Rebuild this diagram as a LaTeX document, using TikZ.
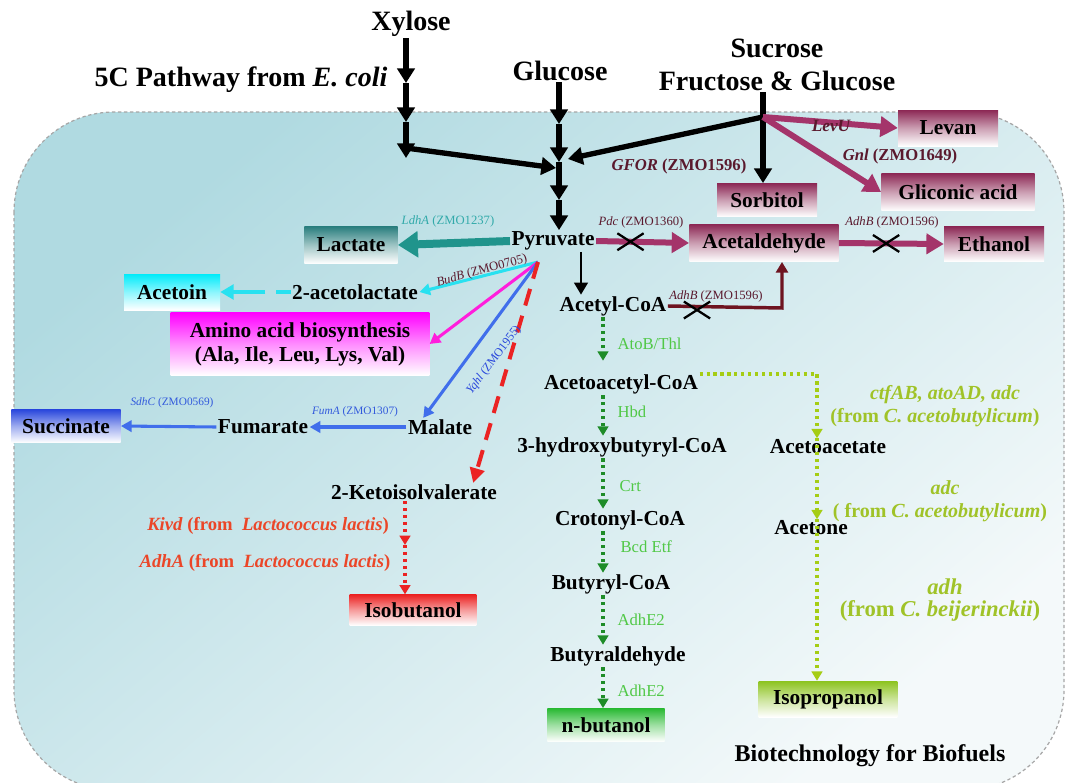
\documentclass[tikz,border=0pt]{standalone}
\usepackage{fontspec}
\setmainfont{Liberation Serif}
\usetikzlibrary{arrows.meta,calc,shapes.misc}
\definecolor{maroon}{RGB}{164,52,106}
\definecolor{boxmaroon}{RGB}{140,40,85}
\definecolor{darkmar}{RGB}{90,25,45}
\definecolor{deepred}{RGB}{110,20,32}
\definecolor{tealA}{RGB}{32,148,140}
\definecolor{tealbox}{RGB}{40,125,125}
\definecolor{tealtxt}{RGB}{50,170,170}
\definecolor{cyanA}{RGB}{40,225,240}
\definecolor{cyanbox}{RGB}{0,235,250}
\definecolor{magA}{RGB}{255,30,220}
\definecolor{magbox}{RGB}{255,0,255}
\definecolor{blueA}{RGB}{64,110,235}
\definecolor{blueB}{RGB}{40,70,220}
\definecolor{bluetxt}{RGB}{50,90,220}
\definecolor{redA}{RGB}{235,35,35}
\definecolor{redlab}{RGB}{235,70,40}
\definecolor{greenA}{RGB}{30,140,40}
\definecolor{greenlab}{RGB}{80,200,70}
\definecolor{greenbox}{RGB}{40,185,50}
\definecolor{ylg}{RGB}{165,205,20}
\definecolor{ylglab}{RGB}{160,195,40}
\definecolor{ylgbox}{RGB}{140,195,30}
\definecolor{bgA}{RGB}{176,218,225}
\definecolor{bgB}{RGB}{244,249,250}
\tikzset{
  met/.style={font=\bfseries\fontsize{16}{18}\selectfont, inner sep=1pt},
  ttl/.style={font=\bfseries\fontsize{21}{24}\selectfont, inner sep=1pt},
  pbox/.style={met, top color=#1, bottom color=white, middle color=#1!45, inner sep=2pt},
  gene/.style={font=\fontsize{9.5}{11}\selectfont, inner sep=1pt},
  glab/.style={font=\fontsize{12.5}{14}\selectfont, text=greenlab, inner sep=1pt, anchor=west},
  ylab/.style={font=\bfseries\fontsize{15}{17}\selectfont, text=ylglab, inner sep=1pt},
  rlab/.style={font=\bfseries\fontsize{14}{16}\selectfont, text=redlab, inner sep=1pt},
  blk/.style={line width=4pt, -{Triangle[length=11pt,width=13pt]}},
  thickmar/.style={line width=4.5pt, color=maroon, -{Triangle[length=13pt,width=15pt]}},
  thin/.style={line width=2.3pt, -{Triangle[length=8pt,width=8.5pt]}},
  gdot/.style={line width=2.6pt, color=greenA, dash pattern=on 2.4pt off 2.8pt, -{Triangle[length=7pt,width=8pt]}},
  ydot/.style={line width=2.6pt, color=ylg, dash pattern=on 2.4pt off 2.8pt, -{Triangle[length=7pt,width=8pt]}},
  rdot/.style={line width=2.6pt, color=redA, dash pattern=on 2.4pt off 2.8pt, -{Triangle[length=7pt,width=8pt]}},
  xmark/.style={cross out, draw=black, line width=1.7pt, minimum width=18pt, minimum height=11pt, inner sep=0pt}
}
\begin{document}
\begin{tikzpicture}[x=0.75pt,y=-0.75pt]
\useasboundingbox (0,0) rectangle (1070,782);
\clip (0,0) rectangle (1070,782);
% background cell
\shade[rounded corners=75pt, top color=bgA, bottom color=bgB, shading angle=40] (14,112) rectangle (1064,790);
\draw[rounded corners=75pt, gray!70, line width=0.9pt, dash pattern=on 2.5pt off 2pt] (14,112) rectangle (1064,790);

% titles
\node[ttl] (xyl) at (411,24) {Xylose};
\node[ttl] (path5c) at (241,80) {5C Pathway from \textit{E. coli}};
\node[ttl] (glc) at (560,71) {Glucose};
\node[ttl] (suc) at (777,48) {Sucrose};
\node[ttl] (frg) at (777,81) {Fructose \& Glucose};

% product boxes
\node[pbox=boxmaroon, minimum width=75pt, minimum height=27pt] (levan) at (948,128) {Levan};
\node[pbox=boxmaroon, minimum width=115pt, minimum height=28pt] (glic) at (958,192) {Gliconic acid};
\node[pbox=boxmaroon, minimum width=75pt, minimum height=25pt] (sorb) at (767,200) {Sorbitol};
\node[pbox=boxmaroon, minimum width=112pt, minimum height=28pt] (acald) at (764,243) {Acetaldehyde};
\node[pbox=boxmaroon, minimum width=75pt, minimum height=26pt] (etoh) at (994,244) {Ethanol};
\node[pbox=tealbox, minimum width=70pt, minimum height=28pt] (lact) at (351,245) {Lactate};
\node[pbox=cyanbox, minimum width=72pt, minimum height=27pt] (acetoin) at (172,292) {Acetoin};
\node[pbox=magbox, minimum width=194pt, minimum height=47pt, align=center] (amino) at (300,344) {Amino acid biosynthesis\\(Ala, Ile, Leu, Lys, Val)};
\node[pbox=blueB, minimum width=82pt, minimum height=25pt] (succ) at (66,426) {Succinate};
\node[pbox=redA, minimum width=95pt, minimum height=23pt] (isobut) at (413,610) {Isobutanol};
\node[pbox=greenbox, minimum width=88pt, minimum height=25pt] (nbut) at (606,725) {n-butanol};
\node[pbox=ylgbox, minimum width=104pt, minimum height=27pt] (isoprop) at (828,699) {Isopropanol};

% metabolites
\node[met] (pyr) at (553,241) {Pyruvate};
\node[met] (acetolac) at (355,292) {2-acetolactate};
\node[met] (acetyl) at (613,306) {Acetyl-CoA};
\node[met] (acac) at (621,384) {Acetoacetyl-CoA};
\node[met] (hbco) at (622,447) {3-hydroxybutyryl-CoA};
\node[met] (crot) at (620,520) {Crotonyl-CoA};
\node[met] (buty) at (611,584) {Butyryl-CoA};
\node[met] (butald) at (618,656) {Butyraldehyde};
\node[met] (acacet) at (828,447) {Acetoacetate};
\node[met] (acetone) at (811,528) {Acetone};
\node[met] (malate) at (440,427) {Malate};
\node[met] (fum) at (263,427) {Fumarate};
\node[met] (kiv) at (414,492) {2-Ketoisolvalerate};
\node[font=\bfseries\fontsize{18}{20}\selectfont, inner sep=1pt] (biotech) at (870,756) {Biotechnology for Biofuels};

% helper coordinates
\coordinate (xa) at (406,83);
\coordinate (xb) at (406,122);
\coordinate (xc) at (406,158);
\coordinate (xk) at (406,148);
\coordinate (gm) at (556,168);
\coordinate (g1) at (559,124);
\coordinate (g2) at (559,162);
\coordinate (g3) at (559,200);
\coordinate (J) at (763,117);
\coordinate (sj) at (568,159);
\coordinate (F) at (538,262);
\coordinate (bx) at (581,0);
\coordinate (gx) at (603,0);
\coordinate (dc) at (782,308);
\coordinate (yc) at (817,374);
\coordinate (rmid) at (405,545);

% black top arrows
\draw[blk] (xyl.south -| xa) -- (xa);
\draw[blk] (xa) -- (xb);
\draw[blk] (xb) -- (xc);
\draw[blk] (xk) -- (gm);
\draw[blk] (glc.south -| g1) -- (g1);
\draw[blk] (g1) -- (g2);
\draw[blk] (g2) -- (g3);
\draw[blk] (g3) -- (pyr.north -| g3);
\draw[line width=4pt] (frg.south -| J) -- (J);
\draw[blk] (J) -- (sorb.north -| J);
\draw[blk] (J) -- (sj);
\draw[thickmar] (J) -- (levan.west);
\draw[thickmar] (J) -- (glic.west);

% pyruvate branches
\draw[line width=6pt, color=tealA, -{Triangle[length=15pt,width=19pt]}] (pyr.west) -- (lact.east);
\draw[thickmar] (pyr.east) -- (acald.west);
\draw[thickmar] (acald.east) -- (etoh.west);
\node[xmark] (x1) at ($(pyr.east)!0.37!(acald.west)$) {};
\node[xmark] (x2) at ($(acald.east)!0.45!(etoh.west)$) {};
\draw[line width=2.2pt, -{Triangle[length=9pt,width=10pt]}] (pyr.south -| bx) -- (acetyl.north -| bx);
\draw[line width=2.6pt, color=deepred, -{Triangle[length=8pt,width=9pt]}] (acetyl.east) -- (dc) -- (dc |- acald.south);
\node[xmark] (x3) at (697,310) {};

\draw[thin, color=cyanA] (F) -- (acetolac.east);
\draw[thin, color=magA] (F) -- (amino.east);
\draw[thin, color=blueA] (F) -- ($(malate.north west)!0.25!(malate.north east)$);
\draw[line width=3pt, color=redA, dash pattern=on 13pt off 8pt, -{Triangle[length=11pt,width=11pt]}] (F) -- ($(kiv.north west)!0.85!(kiv.north east)$);
\draw[line width=3.5pt, color=cyanA, dash pattern=on 11pt off 8pt on 40pt, -{Triangle[length=10pt,width=11pt]}] (acetolac.west) -- (acetoin.east);
\draw[thin, color=blueA] (malate.west) -- (fum.east);
\draw[thin, color=blueA] (fum.west) -- (succ.east);
\draw[rdot] (kiv.south -| rmid) -- (rmid);
\draw[rdot] (rmid) -- (isobut.north -| rmid);

% butanol chain
\draw[gdot, shorten >=9pt] (acetyl.south -| gx) -- (acac.north -| gx);
\draw[gdot] (acac.south -| gx) -- (hbco.north -| gx);
\draw[gdot] (hbco.south -| gx) -- (crot.north -| gx);
\draw[gdot] (crot.south -| gx) -- (buty.north -| gx);
\draw[gdot] (buty.south -| gx) -- (butald.north -| gx);
\draw[gdot] (butald.south -| gx) -- (nbut.north -| gx);

% isopropanol chain
\draw[ydot] ($(acac.east)+(0,-10)$) -- (yc) -- (yc |- acacet.north);
\draw[ydot] (yc |- acacet.north) -- (yc |- acetone.north);
\draw[ydot] (yc |- acetone.north) -- (yc |- isoprop.north);

% gene labels
\node[gene, text=tealtxt] (ldha) at (448,221) {\textit{LdhA} (ZMO1237)};
\node[gene, text=darkmar] (pdc) at (641,222) {\textit{Pdc} (ZMO1360)};
\node[gene, text=darkmar] (adhb1) at (892,222) {\textit{AdhB} (ZMO1596)};
\node[gene, text=darkmar] (adhb2) at (716,296) {\textit{AdhB} (ZMO1596)};
\node[gene, text=darkmar, rotate=15] (budb) at (482,271) {\textit{BudB} (ZMO0705)};
\node[gene, text=blueB, rotate=53, font=\fontsize{9}{10}\selectfont] (yqhj) at (494,360) {\textit{Yqhl} (ZMO1955)};
\node[gene, text=bluetxt, font=\fontsize{8.5}{10}\selectfont] (sdhc) at (172,403) {\textit{SdhC} (ZMO0569)};
\node[gene, text=bluetxt, font=\fontsize{8.5}{10}\selectfont] (fuma) at (355,412) {\textit{FumA} (ZMO1307)};
\node[font=\bfseries\fontsize{12.5}{14}\selectfont, text=darkmar, inner sep=1pt] (gfor) at (679,166) {\textit{GFOR} (ZMO1596)};
\node[font=\bfseries\fontsize{12.5}{14}\selectfont, text=darkmar, inner sep=1pt] (gnl) at (900,156) {\textit{Gnl} (ZMO1649)};
\node[font=\bfseries\itshape\fontsize{13}{15}\selectfont, text=darkmar, inner sep=1pt] (levu) at (831,126) {LevU};

\node[glab] (atob) at (616,344) {AtoB/Thl};
\node[glab] (hbd) at (616,412) {Hbd};
\node[glab] (crt) at (618,486) {Crt};
\node[glab] (bcd) at (619,547) {Bcd Etf};
\node[glab] (adhe1) at (616,620) {AdhE2};
\node[glab] (adhe2) at (616,691) {AdhE2};

\node[ylab] (ctf) at (945,395) {\textit{ctfAB, atoAD, adc}};
\node[ylab] (from1) at (935,418) {(from \textit{C. acetobutylicum})};
\node[ylab] (adc) at (945,488) {\textit{adc}};
\node[ylab] (from2) at (940,513) {( from \textit{C. acetobutylicum})};
\node[ylab, font=\bfseries\fontsize{17}{19}\selectfont] (adh) at (945,587) {\textit{adh}};
\node[ylab, font=\bfseries\fontsize{17}{19}\selectfont] (from3) at (940,611) {(from \textit{C. beijerinckii})};

\node[rlab] (kivd) at (268,526) {\textit{Kivd} (from\ \ \textit{Lactococcus lactis})};
\node[rlab] (adha) at (265,563) {\textit{AdhA} (from\ \ \textit{Lactococcus lactis})};
\end{tikzpicture}
\end{document}
